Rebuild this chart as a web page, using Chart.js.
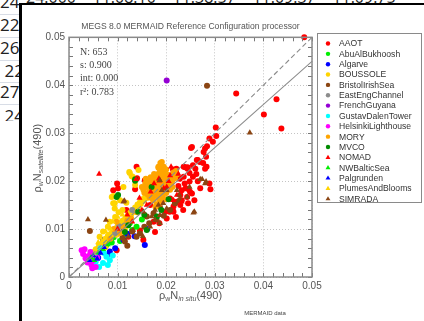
<!DOCTYPE html>
<html>
<head>
<meta charset="utf-8">
<script src="https://cdn.jsdelivr.net/npm/chart.js@4.4.0/dist/chart.umd.min.js"></script>
<style>
  html, body { margin: 0; padding: 0; background: #fff; overflow: hidden; }
  body { width: 424px; height: 321px; position: relative; font-family: "Open Sans", sans-serif; }
  #topText { position: absolute; left: 26px; top: -14px; font-size: 16px; color: #222; white-space: pre; }
  #cells { position: absolute; left: 0; top: 0; width: 19px; height: 121px; overflow: hidden; }
  .cell { position: absolute; left: 0; font-size: 17px; color: #222; white-space: pre; line-height: 20px; }
  .sep { position: absolute; left: 0; width: 19px; height: 1px; background: #d8dde6; }
  #vline { position: absolute; left: 19px; top: 3px; width: 3px; height: 318px; background: #000; }
  #hline { position: absolute; left: 19px; top: 3px; width: 405px; height: 2px; background: #000; }
  #panel { position: absolute; left: 22px; top: 5px; width: 402px; height: 316px; background: #fff; }
</style>
</head>
<body>
<div id="topText">24.000    11.08.10    11.38.57    11.09.37    11.09.75</div>
<div id="cells">
  <div class="cell" style="top:-8px">24.</div>
  <div class="sep" style="top:14px"></div>
  <div class="cell" style="top:15px">22.</div>
  <div class="sep" style="top:37px"></div>
  <div class="cell" style="top:38px">26.</div>
  <div class="sep" style="top:60px"></div>
  <div class="cell" style="top:61px"> 22</div>
  <div class="sep" style="top:82px"></div>
  <div class="cell" style="top:82px">27.</div>
  <div class="sep" style="top:104px"></div>
  <div class="cell" style="top:106px"> 24</div>
</div>
<div id="vline"></div>
<div id="hline"></div>
<div id="panel"><canvas id="Chart" width="402" height="316"></canvas></div>
<script>
const TITLE = 'MEGS 8.0 MERMAID Reference Configuration processor';
const STATS = ['N: 653', 's: 0.900', 'int: 0.000', 'r\u00b2: 0.783'];
const AXIS_TICKS = [0, 0.01, 0.02, 0.03, 0.04, 0.05];
const SLOPE = 0.9;
const INTERCEPT = 0.0;

const STATIONS = ['AAOT', 'AbuAlBukhoosh', 'Algarve', 'BOUSSOLE', 'BristolIrishSea', 'EastEngChannel',
  'FrenchGuyana', 'GustavDalenTower', 'HelsinkiLighthouse', 'MORY', 'MVCO', 'NOMAD', 'NWBalticSea',
  'Palgrunden', 'PlumesAndBlooms', 'SIMRADA'];
const COLORS = ['#ff0000', '#00ee00', '#0000ff', '#ffd400', '#8b4513', '#8c8c8c',
  '#9400d3', '#00ffff', '#ff00ff', '#ffa500', '#008b00', '#ff0000', '#00ee00',
  '#0000ff', '#ffd400', '#8b4513'];
const SHAPES = ['circle', 'circle', 'circle', 'circle', 'circle', 'circle', 'circle', 'circle',
  'circle', 'circle', 'circle', 'triangle', 'triangle', 'triangle', 'triangle', 'triangle'];

// [in situ, satellite]
const aaot = [[0.0484,0.0500],[0.0344,0.0383],[0.0427,0.0371],[0.0401,0.0339],[0.0437,0.0310],
  [0.0302,0.0312],[0.0303,0.0294],[0.0289,0.0289],[0.0296,0.0282],[0.0284,0.0273],[0.0280,0.0268],
  [0.0251,0.0269],[0.0277,0.0261],[0.0263,0.0244],[0.0276,0.0238],[0.0214,0.0224],[0.0239,0.0229],
  [0.0253,0.0271],[0.0265,0.0244],[0.0282,0.0251],[0.0269,0.0240],[0.0280,0.0226],[0.0248,0.0217],
  [0.0255,0.0209],[0.0289,0.0195],[0.0291,0.0183],[0.0249,0.0178],[0.0245,0.0154],[0.0214,0.0138],
  [0.0207,0.0136],[0.0099,0.0195],[0.0091,0.0181],[0.0139,0.0230],[0.0136,0.0183],[0.0167,0.0150],
  [0.0187,0.0160],[0.0174,0.0115],[0.0201,0.0122],[0.0215,0.0136],[0.0222,0.0157],[0.0232,0.0160],
  [0.0243,0.0167],[0.0153,0.0077],[0.0098,0.0056],[0.0063,0.0063],[0.0236,0.0230],[0.0244,0.0226],
  [0.0283,0.0230],[0.0221,0.0226],[0.0260,0.0226],[0.0215,0.0147],[0.0232,0.0181],[0.0255,0.0233],
  [0.0244,0.0229],[0.0236,0.0209],[0.0248,0.0199],[0.0229,0.0171],[0.0218,0.0154],[0.0208,0.0164],
  [0.0246,0.0183],[0.0253,0.0174],[0.0229,0.0150],[0.0156,0.0202],[0.0140,0.0206],[0.0186,0.0112],
  [0.0198,0.0136],[0.0146,0.0097],[0.0122,0.0084],[0.0177,0.0094],[0.0101,0.0185],[0.0118,0.0140],
  [0.0225,0.0190],[0.0238,0.0195],[0.0262,0.0215],[0.0270,0.0185],[0.0258,0.0160],[0.0235,0.0140],
  [0.0220,0.0125],[0.0265,0.0200],[0.0240,0.0185],[0.0228,0.0205]];
const abuAlBukhoosh = [[0.0092,0.0083],[0.0118,0.0088],[0.0139,0.0105],[0.0077,0.0067],[0.0125,0.0112],
  [0.0105,0.0075],[0.0150,0.0120],[0.0088,0.0072],[0.0060,0.0055],[0.0130,0.0098],[0.0112,0.0102]];
const algarve = [[0.0156,0.0067],[0.0161,0.0100],[0.0105,0.0098],[0.0112,0.0077],[0.0084,0.0053],
  [0.0070,0.0077],[0.0095,0.0060],[0.0120,0.0090],[0.0078,0.0045],[0.0135,0.0085],[0.0060,0.0040],
  [0.0101,0.0098]];
const boussole = [[0.0125,0.0217],[0.0131,0.0209],[0.0088,0.0167],[0.0091,0.0154],[0.0094,0.0143],
  [0.0108,0.0115],[0.0084,0.0115],[0.0063,0.0084],[0.0143,0.0223],[0.0125,0.0129],[0.0124,0.0219],
  [0.0129,0.0210],[0.0112,0.0188],[0.0136,0.0192],[0.0091,0.0169],[0.0094,0.0154],
  [0.0050,0.0052],[0.0055,0.0058],[0.0060,0.0060],[0.0062,0.0068],[0.0066,0.0066],[0.0070,0.0074],
  [0.0072,0.0070],[0.0075,0.0080],[0.0078,0.0078],[0.0080,0.0086],[0.0083,0.0082],[0.0086,0.0090],
  [0.0088,0.0087],[0.0090,0.0096],[0.0093,0.0094],[0.0096,0.0101],[0.0098,0.0099],[0.0100,0.0106],
  [0.0103,0.0104],[0.0106,0.0112],[0.0108,0.0109],[0.0111,0.0118],[0.0113,0.0114],[0.0116,0.0123],
  [0.0118,0.0120],[0.0121,0.0129],[0.0123,0.0125],[0.0126,0.0134],[0.0128,0.0131],[0.0131,0.0140],
  [0.0133,0.0136],[0.0136,0.0145],[0.0138,0.0142],[0.0141,0.0151],[0.0143,0.0147],[0.0146,0.0156],
  [0.0148,0.0153],[0.0151,0.0162],[0.0154,0.0159],[0.0157,0.0168],[0.0160,0.0165],[0.0163,0.0174],
  [0.0166,0.0171],[0.0170,0.0180],[0.0174,0.0184],[0.0178,0.0188],[0.0182,0.0194],[0.0186,0.0198],
  [0.0190,0.0204],[0.0195,0.0208],[0.0200,0.0214],[0.0070,0.0095],[0.0080,0.0105],[0.0095,0.0125],
  [0.0102,0.0135],[0.0075,0.0062],[0.0098,0.0088],[0.0115,0.0100],[0.0110,0.0140],[0.0118,0.0155],
  [0.0105,0.0160]];
const bristolIrishSea = [[0.0284,0.0399],[0.0174,0.0133],[0.0187,0.0146],[0.0208,0.0140],[0.0218,0.0154],
  [0.0115,0.0074],[0.0139,0.0084],[0.0160,0.0126],[0.0146,0.0091],[0.0043,0.0096],[0.0165,0.0112],
  [0.0195,0.0128],[0.0130,0.0095],[0.0180,0.0120],[0.0155,0.0105],[0.0120,0.0065],[0.0228,0.0160],
  [0.0110,0.0082]];
const eastEngChannel = [[0.0103,0.0106],[0.0120,0.0112],[0.0095,0.0092],[0.0130,0.0140]];
const frenchGuyana = [[0.0201,0.0410]];
const gustavDalenTower = [[0.0070,0.0029],[0.0084,0.0035],[0.0062,0.0021],[0.0077,0.0042],[0.0065,0.0060],
  [0.0055,0.0032],[0.0090,0.0045],[0.0072,0.0050],[0.0048,0.0028],[0.0080,0.0025]];
const helsinkiLighthouse = [[0.0026,0.0056],[0.0040,0.0044],[0.0046,0.0025],[0.0034,0.0039],[0.0050,0.0035],
  [0.0055,0.0021],[0.0029,0.0048],[0.0038,0.0030],[0.0044,0.0052],[0.0058,0.0040],[0.0032,0.0058],
  [0.0048,0.0018]];
const mory = [[0.0160,0.0190],[0.0165,0.0182],[0.0163,0.0198],[0.0170,0.0193],[0.0172,0.0185],
  [0.0168,0.0176],[0.0175,0.0200],[0.0178,0.0192],[0.0180,0.0183],[0.0176,0.0170],[0.0183,0.0205],
  [0.0185,0.0196],[0.0187,0.0188],[0.0184,0.0178],[0.0190,0.0212],[0.0192,0.0201],[0.0194,0.0192],
  [0.0191,0.0172],[0.0196,0.0183],[0.0198,0.0208],[0.0200,0.0198],[0.0203,0.0190],[0.0205,0.0213],
  [0.0207,0.0203],[0.0210,0.0195],[0.0212,0.0210],[0.0215,0.0218],[0.0218,0.0206],[0.0220,0.0221],
  [0.0191,0.0222],[0.0195,0.0230],[0.0188,0.0238],[0.0184,0.0228],[0.0200,0.0224],[0.0173,0.0160],
  [0.0180,0.0152],[0.0186,0.0160],[0.0193,0.0165],[0.0178,0.0146],[0.0158,0.0205],[0.0155,0.0176],
  [0.0168,0.0208],[0.0175,0.0215],[0.0182,0.0214],[0.0208,0.0182],[0.0213,0.0188],[0.0188,0.0170],
  [0.0200,0.0175],[0.0166,0.0166],[0.0150,0.0188],[0.0191,0.0240],[0.0184,0.0230],
  [0.0162,0.0172],[0.0170,0.0168],[0.0178,0.0176],[0.0182,0.0168],[0.0195,0.0175],[0.0202,0.0185],
  [0.0206,0.0195],[0.0210,0.0205],[0.0216,0.0212],[0.0196,0.0215],[0.0186,0.0218],[0.0178,0.0206],
  [0.0170,0.0200],[0.0164,0.0186],[0.0174,0.0180],[0.0189,0.0182],[0.0198,0.0193],[0.0205,0.0205],
  [0.0194,0.0200],[0.0181,0.0198],[0.0157,0.0195],[0.0153,0.0182],[0.0222,0.0214],[0.0212,0.0200],
  [0.0199,0.0162],[0.0185,0.0152],
  [0.0098,0.0115],[0.0105,0.0092],[0.0112,0.0105],[0.0085,0.0080],[0.0120,0.0118],[0.0128,0.0122],
  [0.0140,0.0135],[0.0092,0.0100]];
const mvco = [[0.0101,0.0171],[0.0136,0.0204],[0.0122,0.0108],[0.0142,0.0136],[0.0181,0.0126],
  [0.0205,0.0162],[0.0160,0.0098],[0.0115,0.0094],[0.0136,0.0201],[0.0098,0.0167],[0.0170,0.0188],
  [0.0155,0.0130],[0.0190,0.0140]];
const nomad = [[0.0062,0.0215],[0.0138,0.0204],[0.0175,0.0195],[0.0185,0.0205],[0.0195,0.0185],
  [0.0168,0.0178],[0.0205,0.0200],[0.0225,0.0215],[0.0150,0.0140],[0.0120,0.0130],[0.0160,0.0150],
  [0.0145,0.0165],[0.0215,0.0160],[0.0130,0.0115],[0.0210,0.0230],[0.0100,0.0100],[0.0201,0.0188],
  [0.0186,0.0201],[0.0208,0.0212],[0.0222,0.0171],[0.0232,0.0157]];
const nwBalticSea = [[0.0045,0.0040],[0.0060,0.0050],[0.0052,0.0035],[0.0070,0.0058],[0.0080,0.0068]];
const palgrunden = [[0.0050,0.0045],[0.0058,0.0038],[0.0065,0.0050],[0.0072,0.0062],[0.0042,0.0035]];
const plumesAndBlooms = [[0.0075,0.0095],[0.0085,0.0100],[0.0100,0.0125],[0.0110,0.0130],[0.0060,0.0072],
  [0.0090,0.0115]];
const simrada = [[0.0372,0.0301],[0.0274,0.0204],[0.0280,0.0195],[0.0248,0.0188],[0.0243,0.0167],
  [0.0256,0.0134],[0.0194,0.0154],[0.0039,0.0120],[0.0076,0.0119],[0.0114,0.0159],[0.0112,0.0157],
  [0.0187,0.0202],[0.0191,0.0181],[0.0222,0.0181],[0.0227,0.0171],[0.0177,0.0140],[0.0184,0.0150],
  [0.0153,0.0136],[0.0170,0.0126],[0.0187,0.0129],[0.0201,0.0143],[0.0258,0.0136],[0.0270,0.0204],
  [0.0282,0.0199],[0.0122,0.0084],[0.0132,0.0098],[0.0167,0.0105],[0.0187,0.0112],[0.0177,0.0119],
  [0.0152,0.0085],[0.0201,0.0181]];

const SERIES = [aaot, abuAlBukhoosh, algarve, boussole, bristolIrishSea, eastEngChannel, frenchGuyana,
  gustavDalenTower, helsinkiLighthouse, mory, mvco, nomad, nwBalticSea, palgrunden, plumesAndBlooms, simrada];

Chart.defaults.font.family = '"Liberation Sans", Arial, sans-serif';

let datasets = STATIONS.map(function (name, i) {
    return {
        label: name,
        data: SERIES[i].map(function (p) { return {x: p[0], y: p[1]}; }),
        backgroundColor: COLORS[i],
        borderColor: COLORS[i],
        borderWidth: 0,
        pointStyle: SHAPES[i],
        pointRadius: SHAPES[i] === 'triangle' ? 3.5 : 3,
        clip: false,
        order: STATIONS.length - i + 1
    };
});
datasets.push({
    type: 'line', label: '', data: [{x: 0, y: 0}, {x: 0.05, y: 0.05}],
    borderColor: '#8a8a8a', borderWidth: 1.1, borderDash: [5, 3], pointRadius: 0, order: 0
});
datasets.push({
    type: 'line', label: '', data: [{x: 0, y: INTERCEPT}, {x: 0.05, y: INTERCEPT + SLOPE * 0.05}],
    borderColor: '#8a8a8a', borderWidth: 1.1, pointRadius: 0, order: 0
});

function drawMarker(ctx, shape, x, y, r, color) {
    ctx.fillStyle = color;
    ctx.beginPath();
    if (shape === 'triangle') {
        ctx.moveTo(x, y - r);
        ctx.lineTo(x + r * 0.95, y + r * 0.6);
        ctx.lineTo(x - r * 0.95, y + r * 0.6);
        ctx.closePath();
    } else {
        ctx.arc(x, y, r, 0, Math.PI * 2);
    }
    ctx.fill();
}

// draws text pieces [text, size, dy, italic] centred at (cx, cy)
function drawRich(ctx, parts, cx, cy) {
    let widths = parts.map(function (p) {
        ctx.font = (p[3] ? 'italic ' : '') + p[1] + 'px "Liberation Sans", Arial, sans-serif';
        return ctx.measureText(p[0]).width;
    });
    let total = widths.reduce(function (a, b) { return a + b; }, 0);
    let x = cx - total / 2;
    ctx.textBaseline = 'middle';
    ctx.textAlign = 'left';
    parts.forEach(function (p, i) {
        ctx.font = (p[3] ? 'italic ' : '') + p[1] + 'px "Liberation Sans", Arial, sans-serif';
        ctx.fillText(p[0], x, cy + p[2]);
        x += widths[i];
    });
}

const decorations = {
    id: 'decorations',
    afterDraw: function (chart) {
        let ctx = chart.ctx;
        let a = chart.chartArea;
        let xs = chart.scales.x, ys = chart.scales.y;
        ctx.save();

        // minor ticks, inside on all sides
        ctx.strokeStyle = '#777';
        ctx.lineWidth = 1;
        for (let k = 0; k <= 25; k++) {
            let v = k * 0.002;
            let px = Math.round(xs.getPixelForValue(v)) + 0.5;
            let py = Math.round(ys.getPixelForValue(v)) + 0.5;
            ctx.beginPath();
            ctx.moveTo(px, a.bottom); ctx.lineTo(px, a.bottom - 4);
            ctx.moveTo(px, a.top); ctx.lineTo(px, a.top + 4);
            ctx.moveTo(a.left, py); ctx.lineTo(a.left + 4, py);
            ctx.moveTo(a.right, py); ctx.lineTo(a.right - 4, py);
            ctx.stroke();
        }

        // frame
        ctx.strokeStyle = '#8a8a8a';
        ctx.lineWidth = 1.5;
        ctx.strokeRect(a.left, a.top, a.right - a.left, a.bottom - a.top);

        // stats
        ctx.fillStyle = '#444';
        ctx.font = '10px "Liberation Serif", "Times New Roman", serif';
        ctx.textAlign = 'left';
        ctx.textBaseline = 'middle';
        STATS.forEach(function (s, i) {
            ctx.fillText(s, a.left + 11, a.top + 15 + i * 13.2);
        });

        // axis titles
        ctx.fillStyle = '#555';
        drawRich(ctx, [['\u03c1', 11, 0], ['w', 7, 3], ['N', 11, 0], ['in situ', 7, 3, true], ['(490)', 11, 0]],
            (a.left + a.right) / 2, 291);
        ctx.save();
        ctx.translate(16, (a.top + a.bottom) / 2 + 1);
        ctx.rotate(-Math.PI / 2);
        drawRich(ctx, [['\u03c1', 11, 0], ['w', 7, 3], ['N', 11, 0], ['satellite', 7, 3, true], ['(490)', 11, 0]], 0, 0);
        ctx.restore();

        ctx.font = '6px "Liberation Sans", Arial, sans-serif';
        ctx.fillStyle = '#444';
        ctx.textAlign = 'center';
        ctx.fillText('MERMAID data', 243, 308);

        // legend
        let lx = 295, ly = 28, lw = 104, lh = 169;
        ctx.strokeStyle = '#8a8a8a';
        ctx.lineWidth = 1;
        ctx.strokeRect(lx + 0.5, ly + 0.5, lw, lh);
        ctx.font = '8.6px "Liberation Sans", Arial, sans-serif';
        ctx.textAlign = 'left';
        ctx.textBaseline = 'middle';
        chart.data.datasets.forEach(function (ds, i) {
            if (!ds.label) return;
            let y = ly + 10.5 + i * 10.35;
            drawMarker(ctx, ds.pointStyle, lx + 11, y, ds.pointStyle === 'triangle' ? 2.6 : 2.2, ds.backgroundColor);
            ctx.fillStyle = '#333';
            ctx.fillText(ds.label, lx + 22, y + 0.5);
        });
        ctx.restore();
    }
};

function tickLabel(v) {
    return v === 0 ? '0' : String(+v.toFixed(2));
}

let ctx = document.getElementById('Chart').getContext('2d');
window.myChart = new Chart(ctx, {
    type: 'scatter',
    data: { datasets: datasets },
    options: {
        responsive: false,
        animation: false,
        devicePixelRatio: 1,
        layout: { padding: { left: 0, right: 112, top: 0, bottom: 0 } },
        plugins: {
            legend: { display: false },
            tooltip: { enabled: false },
            title: {
                display: true, fullSize: false, text: TITLE, color: '#555',
                font: { size: 8.6, weight: 'normal' },
                padding: { top: 16, bottom: 6 }
            }
        },
        scales: {
            x: {
                type: 'linear', min: 0, max: 0.05,
                afterBuildTicks: function (s) { s.ticks = AXIS_TICKS.map(function (v) { return {value: v}; }); },
                afterFit: function (s) { s.height = 44; },
                ticks: { callback: tickLabel, color: '#555', font: { size: 10 }, padding: 3, maxRotation: 0 },
                grid: { color: '#c4c4c4', drawTicks: false },
                border: { display: false, dash: [1, 2] }
            },
            y: {
                type: 'linear', min: 0, max: 0.05,
                afterBuildTicks: function (s) { s.ticks = AXIS_TICKS.map(function (v) { return {value: v}; }); },
                afterFit: function (s) { s.width = 47; },
                ticks: { callback: tickLabel, color: '#555', font: { size: 10 }, padding: 4 },
                grid: { color: '#c4c4c4', drawTicks: false },
                border: { display: false, dash: [1, 2] }
            }
        }
    },
    plugins: [decorations]
});
</script>
</body>
</html>
